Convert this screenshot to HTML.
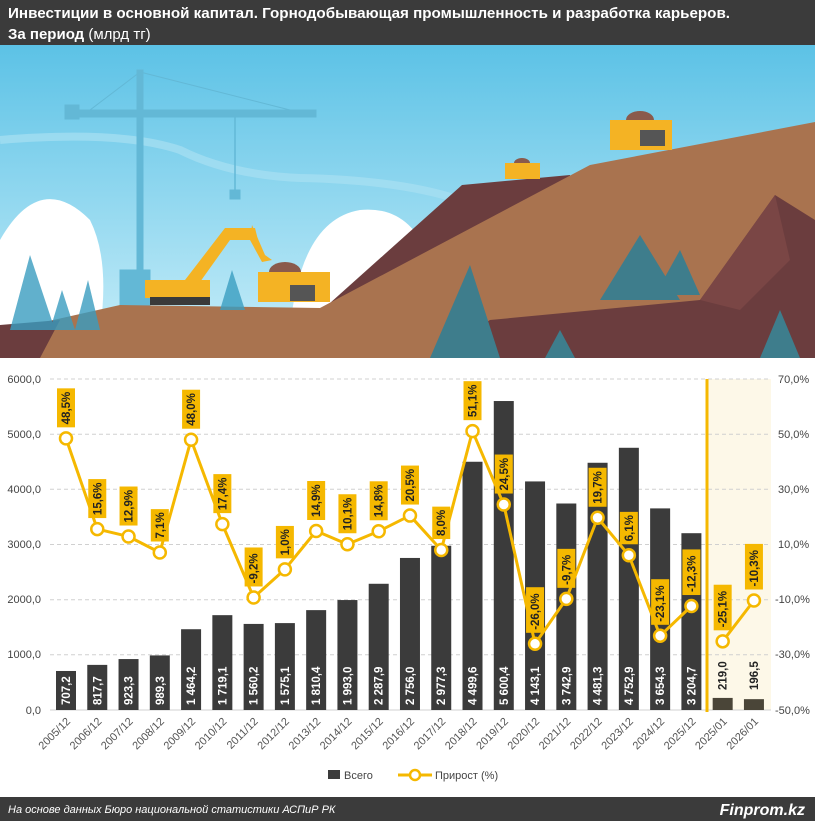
<!DOCTYPE html>
<html><head><meta charset="utf-8"><style>
html,body{margin:0;padding:0;background:#fff;}
svg{display:block;font-family:"Liberation Sans",sans-serif;}
</style></head><body>
<svg width="815" height="821" viewBox="0 0 815 821" xmlns="http://www.w3.org/2000/svg">
<defs>
<linearGradient id="sky" x1="0" y1="0" x2="0" y2="1">
<stop offset="0" stop-color="#5cc2e6"/><stop offset="1" stop-color="#c9eef9"/>
</linearGradient>
</defs>
<rect x="0" y="0" width="815" height="45" fill="#3b3b3b"/>
<text x="8" y="18" fill="#fff" font-weight="bold" font-size="15" textLength="722" lengthAdjust="spacingAndGlyphs">Инвестиции в основной капитал. Горнодобывающая промышленность и разработка карьеров.</text>
<text x="8" y="39" fill="#fff" font-size="15"><tspan font-weight="bold">За период</tspan> (млрд тг)</text>

<!-- illustration -->
<rect x="0" y="45" width="815" height="313" fill="url(#sky)"/>
<path d="M0,140 Q120,130 180,150 Q230,175 300,178 Q400,180 460,200" stroke="#a8e0f2" stroke-width="8" fill="none" opacity="0.7"/>
<path d="M0,240 Q40,170 90,220 Q110,260 100,330 L0,330Z" fill="#fff"/>
<path d="M290,330 Q300,220 360,210 Q410,205 430,260 L430,330Z" fill="#fff"/>
<!-- crane -->
<g fill="#63b8d6" stroke="#63b8d6">
<rect x="137" y="70" width="6" height="230"/>
<rect x="68" y="110" width="248" height="7"/>
<rect x="65" y="105" width="14" height="14"/>
<rect x="120" y="270" width="30" height="40"/>
<line x1="140" y1="72" x2="290" y2="110" stroke-width="1"/>
<line x1="140" y1="72" x2="90" y2="110" stroke-width="1"/>
<line x1="235" y1="117" x2="235" y2="190" stroke-width="1.5"/>
<rect x="230" y="190" width="10" height="9"/>
</g>
<!-- back dark hill -->
<polygon points="320,312 462,185 570,175 565,240 340,320" fill="#6b3d3e"/>
<!-- main hill -->
<polygon points="0,332 120,305 320,308 590,165 815,122 815,358 0,358" fill="#a9734f"/>
<polygon points="0,325 60,320 40,358 0,358" fill="#6b3d3e"/>
<!-- foreground dark -->
<polygon points="430,358 490,320 700,300 775,195 815,220 815,358" fill="#6b3d3e"/>
<polygon points="700,300 775,195 790,260 740,310" fill="#7a4645"/>
<!-- trees -->
<g fill="#3e7d8c">
<polygon points="430,358 470,265 500,358"/>
<polygon points="600,300 640,235 680,300"/>
<polygon points="655,295 680,250 700,295"/>
<polygon points="760,358 780,310 800,358"/>
<polygon points="545,358 560,330 575,358"/>
</g>
<g fill="#3a9dc0" opacity="0.8">
<polygon points="10,330 30,255 55,330"/>
<polygon points="50,330 62,290 75,330"/>
<polygon points="75,330 88,280 100,330"/>
<polygon points="220,310 232,270 245,310"/>
</g>
<!-- excavator -->
<g>
<rect x="145" y="280" width="65" height="18" fill="#f4b324"/>
<rect x="150" y="297" width="60" height="8" fill="#3a3a3a"/>
<polygon points="185,280 225,228 255,228 258,240 230,240 200,282" fill="#f4b324"/>
<polygon points="252,225 265,255 272,260 262,262 250,240" fill="#f4b324"/>
</g>
<!-- trucks -->
<g>
<ellipse cx="285" cy="272" rx="16" ry="10" fill="#8a5a4c"/>
<rect x="258" y="272" width="72" height="30" fill="#f4b324"/>
<rect x="290" y="285" width="25" height="16" fill="#555"/>
<ellipse cx="522" cy="163" rx="8" ry="5" fill="#8a5a4c"/>
<rect x="505" y="163" width="35" height="16" fill="#f4b324"/>
<ellipse cx="640" cy="120" rx="14" ry="9" fill="#8a5a4c"/>
<rect x="610" y="120" width="62" height="30" fill="#f4b324"/>
<rect x="640" y="130" width="25" height="16" fill="#555"/>
</g>

<!-- chart -->
<rect x="0" y="358" width="815" height="439" fill="#fff"/>
<rect x="707" y="379" width="64" height="331" fill="#fdf8e8"/>
<g stroke="#d0d0d0" stroke-dasharray="4,3" stroke-width="1">
<line x1="50" y1="379" x2="771" y2="379"/>
<line x1="50" y1="434.2" x2="771" y2="434.2"/>
<line x1="50" y1="489.3" x2="771" y2="489.3"/>
<line x1="50" y1="544.5" x2="771" y2="544.5"/>
<line x1="50" y1="599.7" x2="771" y2="599.7"/>
<line x1="50" y1="654.8" x2="771" y2="654.8"/>
</g>
<line x1="50" y1="710" x2="771" y2="710" stroke="#d0d0d0"/>
<g font-size="11" fill="#444" text-anchor="end">
<text x="41" y="383">6000,0</text><text x="41" y="438">5000,0</text><text x="41" y="493">4000,0</text><text x="41" y="548">3000,0</text><text x="41" y="603">2000,0</text><text x="41" y="658">1000,0</text><text x="41" y="714">0,0</text>
</g>
<g font-size="11" fill="#444">
<text x="778" y="383">70,0%</text><text x="778" y="438">50,0%</text><text x="778" y="493">30,0%</text><text x="778" y="548">10,0%</text><text x="775" y="603">-10,0%</text><text x="775" y="658">-30,0%</text><text x="775" y="714">-50,0%</text>
</g>
<g id="bars"></g>
<line x1="707" y1="379" x2="707" y2="712" stroke="#f5b800" stroke-width="3"/>
<g id="line"></g>
<g id="xl"></g>

<!-- legend -->
<rect x="328" y="770" width="12" height="9" fill="#3b3b3b"/>
<text x="344" y="779" font-size="11" fill="#444">Всего</text>
<line x1="398" y1="775" x2="432" y2="775" stroke="#f5b800" stroke-width="3"/>
<circle cx="415" cy="775" r="5" fill="#fff" stroke="#f5b800" stroke-width="2.5"/>
<text x="435" y="779" font-size="11" fill="#444">Прирост (%)</text>

<rect x="0" y="797" width="815" height="24" fill="#3b3b3b"/>
<text x="8" y="813" font-size="11" font-style="italic" fill="#fff">На основе данных Бюро национальной статистики АСПиР РК</text>
<text x="805" y="815" font-size="16" font-style="italic" font-weight="bold" fill="#fff" text-anchor="end">Finprom.kz</text>
</svg>
<script>
var bars=[707.2,817.7,923.3,989.3,1464.2,1719.1,1560.2,1575.1,1810.4,1993.0,2287.9,2756.0,2977.3,4499.6,5600.4,4143.1,3742.9,4481.3,4752.9,3654.3,3204.7,219.0,196.5];
var pct=[48.5,15.6,12.9,7.1,48.0,17.4,-9.2,1.0,14.9,10.1,14.8,20.5,8.0,51.1,24.5,-26.0,-9.7,19.7,6.1,-23.1,-12.3,-25.1,-10.3];
var labs=[];for(var y=2005;y<=2025;y++)labs.push(y+"/12");labs.push("2025/01","2026/01");
var NS="http://www.w3.org/2000/svg";
function el(t,a,p,txt){var e=document.createElementNS(NS,t);for(var k in a)e.setAttribute(k,a[k]);if(txt!=null)e.textContent=txt;p.appendChild(e);return e;}
function fmt(v){var s=v.toFixed(1).split(".");var i=s[0];if(i.length>3)i=i.slice(0,i.length-3)+" "+i.slice(-3);return i+","+s[1];}
var gb=document.getElementById("bars"),gl=document.getElementById("line"),gx=document.getElementById("xl");
var cx=function(i){return 66+i*31.27;};
var py=function(p){return 710-(p+50)*2.758;};
for(var i=0;i<23;i++){
 var h=bars[i]*0.05517, x=cx(i);
 el("rect",{x:x-10,y:710-h,width:20,height:h,fill:i>20?"#4a4538":"#3b3b3b"},gb);
 if(i<=20) el("text",{x:0,y:0,transform:"translate("+(x+4)+",705) rotate(-90)","font-size":"11.5","font-weight":"bold",fill:"#fff"},gb,fmt(bars[i]));
 else el("text",{x:0,y:0,transform:"translate("+(x+4)+",690) rotate(-90)","font-size":"11.5","font-weight":"bold",fill:"#222"},gb,fmt(bars[i]));
 el("text",{x:0,y:0,transform:"translate("+(x+5)+",722) rotate(-45)","font-size":"11",fill:"#555","text-anchor":"end"},gx,labs[i]);
}
var d="";for(var i=0;i<=20;i++)d+=(i?"L":"M")+cx(i)+","+py(pct[i]);
d+="M"+cx(21)+","+py(pct[21])+"L"+cx(22)+","+py(pct[22]);
el("path",{d:d,fill:"none",stroke:"#f5b800","stroke-width":3,"stroke-linejoin":"round"},gl);
for(var i=0;i<23;i++){
 var x=cx(i),y=py(pct[i]);
 var s=pct[i].toFixed(1).replace(".",",")+"%";
 var hh=s.length*6.6+6;
 el("rect",{x:x-9,y:y-11-hh,width:18,height:hh,fill:"#f5b800"},gl);
 el("text",{x:0,y:0,transform:"translate("+(x+4)+","+(y-14)+") rotate(-90)","font-size":"11.5","font-weight":"bold",fill:"#222"},gl,s);
 el("circle",{cx:x,cy:y,r:6,fill:"#fff",stroke:"#f5b800","stroke-width":2.5},gl);
}
</script>
</body></html>
